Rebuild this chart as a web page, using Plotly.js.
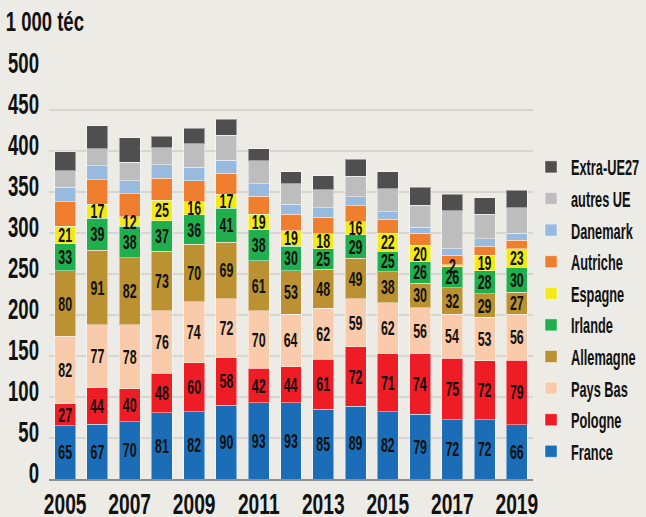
<!DOCTYPE html>
<html>
<head>
<meta charset="utf-8">
<script src="https://cdn.plot.ly/plotly-3.0.1.min.js"></script>
<style>
  html, body { margin: 0; padding: 0; background: #ecebe6; }
  #chart { width: 646px; height: 517px; }
</style>
</head>
<body>
<div id="chart"></div>
<script>
const years = [2005, 2006, 2007, 2008, 2009, 2010, 2011, 2012, 2013, 2014, 2015, 2016, 2017, 2018, 2019];
const tickYears = [2005, 2007, 2009, 2011, 2013, 2015, 2017, 2019];
const yTicks = [0, 50, 100, 150, 200, 250, 300, 350, 400, 450, 500];

const france    = [65, 67, 70, 81, 82, 90, 93, 93, 85, 89, 82, 79, 72, 72, 66];
const pologne   = [27, 44, 40, 48, 60, 58, 42, 44, 61, 72, 71, 74, 75, 72, 79];
const paysBas   = [82, 77, 78, 76, 74, 72, 70, 64, 62, 59, 62, 56, 54, 53, 56];
const allemagne = [80, 91, 82, 73, 70, 69, 61, 53, 48, 49, 38, 30, 32, 29, 27];
const irlande   = [33, 39, 38, 37, 36, 41, 38, 30, 25, 29, 25, 26, 26, 28, 30];
const espagne   = [21, 17, 12, 25, 16, 17, 19, 19, 18, 16, 22, 20, 2, 19, 23];
const autriche  = [30, 30, 28, 27, 26, 26, 22, 20, 20, 19, 17, 15, 12, 11, 10];
const danemark  = [18, 17, 16, 16, 16, 16, 15, 12, 12, 11, 9, 7, 8, 9, 9];
const autresUE  = [20, 21, 22, 21, 29, 30, 28, 25, 22, 25, 28, 27, 46, 30, 31];
const extraUE27 = [23, 28, 30, 14, 19, 20, 15, 15, 17, 21, 21, 22, 20, 20, 21];

const seriesNames = ["France", "Pologne", "Pays Bas", "Allemagne", "Irlande", "Espagne", "Autriche", "Danemark", "autres UE", "Extra-UE27"];
const seriesData = [france, pologne, paysBas, allemagne, irlande, espagne, autriche, danemark, autresUE, extraUE27];
const seriesColors = ["#1a6db6", "#ee1d25", "#f9cbab", "#bb9131", "#20af4d", "#f4ea16", "#ef7e2f", "#98badf", "#bdbdbd", "#4f4f4f"];
const labelled = [true, true, true, true, true, true, false, false, false, false];

const FONT = "'Liberation Sans', Arial, sans-serif";
const INK = "#111111";

const traces = seriesNames.map((name, i) => ({
  type: "bar",
  name: name,
  x: years,
  y: seriesData[i],
  legendrank: 100 - i,
  marker: { color: seriesColors[i], line: { color: "rgba(255,255,255,0.45)", width: 1 } },
  text: labelled[i] ? seriesData[i].map(String) : undefined,
  textposition: labelled[i] ? "inside" : "none",
  insidetextanchor: "middle",
  textangle: 0,
  constraintext: "none",
  textfont: { family: FONT, size: 20, color: INK, weight: 700 },
  hoverinfo: "name+y"
}));

const layout = {
  width: 646,
  height: 517,
  paper_bgcolor: "#ecebe6",
  plot_bgcolor: "#ecebe6",
  barmode: "stack",
  bargap: 0.35,
  margin: { l: 49, r: 113, t: 69, b: 38, autoexpand: false },
  font: { family: FONT, color: INK },
  title: {
    text: "1 000 téc",
    font: { family: FONT, size: 28, color: INK, weight: 700 },
    x: 0.009, xref: "container", xanchor: "left",
    y: 0.959, yref: "container", yanchor: "middle"
  },
  xaxis: {
    range: [2004.5, 2019.5],
    tickvals: tickYears,
    ticktext: tickYears.map(String),
    tickangle: 0,
    showgrid: false,
    zeroline: false,
    showline: true,
    linecolor: "#8e8e8e",
    linewidth: 2,
    ticks: "",
    automargin: false,
    tickfont: { family: FONT, size: 30, color: INK, weight: 700 },
    fixedrange: true
  },
  yaxis: {
    range: [0, 500],
    tickvals: yTicks,
    ticktext: yTicks.map(String),
    showgrid: true,
    gridcolor: "#d7d5d0",
    gridwidth: 2,
    zeroline: false,
    showline: false,
    ticks: "",
    automargin: false,
    ticklabelshift: -6,
    ticklabelstandoff: 9,
    tickfont: { family: FONT, size: 29, color: INK, weight: 700 },
    fixedrange: true
  },
  showlegend: true,
  legend: {
    traceorder: "normal",
    x: 0.9959, xanchor: "left",
    y: 0.812, yanchor: "top",
    bgcolor: "rgba(0,0,0,0)",
    font: { family: FONT, size: 22, color: INK, weight: 700 },
    itemwidth: 30
  }
};

function condense(root, selector, factor) {
  root.querySelectorAll(selector).forEach(t => {
    const len = t.getComputedTextLength();
    if (len > 0) {
      t.setAttribute("textLength", (len * factor).toFixed(2));
      t.setAttribute("lengthAdjust", "spacingAndGlyphs");
    }
  });
}

function raiseBarText(root) {
  const layer = root.querySelector(".barlayer");
  if (!layer) return;
  const g = document.createElementNS("http://www.w3.org/2000/svg", "g");
  g.setAttribute("class", "bartext-top");
  layer.appendChild(g);
  root.querySelectorAll(".barlayer .trace .bartext").forEach(t => g.appendChild(t));
}

function nudgeXLabels(root, dy) {
  root.querySelectorAll(".xtick text").forEach(t => {
    const y = parseFloat(t.getAttribute("y")) || 0;
    t.setAttribute("y", (y + dy).toFixed(2));
  });
}

const gd = document.getElementById("chart");
Plotly.newPlot(gd, traces, layout, { displayModeBar: false, staticPlot: true }).then(() => {
  condense(gd, ".xtick text, .ytick text", 0.64);
  condense(gd, ".gtitle", 0.66);
  condense(gd, ".bartext", 0.62);
  condense(gd, ".legendtext", 0.58);
  raiseBarText(gd);
  nudgeXLabels(gd, -3);
});
</script>
</body>
</html>
